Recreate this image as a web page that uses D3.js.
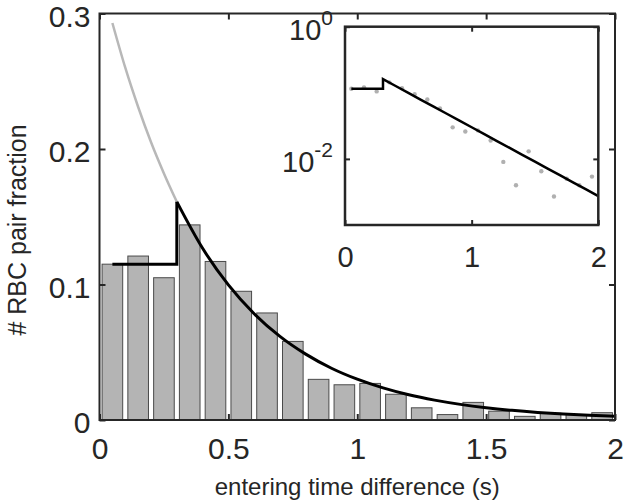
<!DOCTYPE html>
<html><head><meta charset="utf-8">
<script src="https://cdn.jsdelivr.net/npm/d3@7"></script>
<style>body{margin:0;background:#fff}svg{display:block}text{font-family:"Liberation Sans",Arial,sans-serif;fill:#262626}</style>
</head><body><svg id="c" width="625" height="502"></svg>
<script>
// histogram bins (centers) and fractions
const binCenters = [0.05,0.15,0.25,0.35,0.45,0.55,0.65,0.75,0.85,0.95,1.05,1.15,1.25,1.35,1.45,1.55,1.65,1.75,1.85,1.95];
const fractions  = [0.115,0.121,0.105,0.144,0.117,0.095,0.079,0.058,0.030,0.026,0.027,0.019,0.009,0.004,0.013,0.0065,0.0027,0.005,0.004,0.0054];
// extrapolated fit (gray) for short times
const grayX = [0.05,0.1,0.15,0.2,0.25,0.3];
const grayY = [0.293,0.260,0.231,0.205,0.182,0.161];
// plateau (black) for short times
const flatX = [0.05,0.3,0.3];
const flatY = [0.115,0.115,0.161];
// exponential fit (black)
const fitX = [0.3,0.4,0.5,0.6,0.7,0.8,0.9,1.0,1.1,1.2,1.3,1.4,1.5,1.6,1.7,1.8,1.9,2.0];
const fitY = [0.161,0.1267,0.0997,0.0784,0.0617,0.0486,0.0382,0.0301,0.0237,0.0186,0.01466,0.01153,0.00907,0.00714,0.00562,0.00442,0.00348,0.00274];
const xTicks = [0,0.5,1,1.5,2];
const xTickLabels = ["0","0.5","1","1.5","2"];
const yTicks = [0,0.1,0.2,0.3];
const yTickLabels = ["0","0.1","0.2","0.3"];
const insetXTicks = [0,1,2];
const insetYTicks = [1,0.01];
const insetYExp = ["0","-2"];
const xLabel = "entering time difference (s)";
const yLabel = "# RBC pair fraction";

const svg = d3.select("#c");
const AX = "#262626";
const x = d3.scaleLinear().domain([0,2]).range([99.5,615]);
const y = d3.scaleLinear().domain([0,0.3]).range([420,13.5]);
const bw = 0.08;

const g = svg.append("g");
g.selectAll("rect.bar").data(binCenters).join("rect").attr("class","bar")
  .attr("x", (d)=>x(d-bw/2)).attr("width", (d)=>x(d+bw/2)-x(d-bw/2))
  .attr("y", (d,i)=>y(fractions[i])).attr("height", (d,i)=>y(0)-y(fractions[i]))
  .attr("fill","#b4b4b4").attr("stroke","#4a4a4a").attr("stroke-width",1);

g.append("path").datum(grayX.map((v,i)=>[v,grayY[i]]))
  .attr("d", d3.line().x(d=>x(d[0])).y(d=>y(d[1])).curve(d3.curveMonotoneX)).attr("fill","none").attr("stroke","#b8b8b8").attr("stroke-width",2.5);
g.append("path").datum(flatX.map((v,i)=>[v,flatY[i]]))
  .attr("d", d3.line().x(d=>x(d[0])).y(d=>y(d[1]))).attr("fill","none").attr("stroke","#000").attr("stroke-width",3);
g.append("path").datum(fitX.map((v,i)=>[v,fitY[i]]))
  .attr("d", d3.line().x(d=>x(d[0])).y(d=>y(d[1])).curve(d3.curveMonotoneX)).attr("fill","none").attr("stroke","#000").attr("stroke-width",3);

// axes
function styleAxis(sel){ sel.select(".domain").remove(); sel.selectAll(".tick line").attr("stroke",AX).attr("stroke-width",2); sel.selectAll("text").attr("fill",AX).style("font-family",'"Liberation Sans",Arial,sans-serif'); }
const ax1 = svg.append("g").attr("transform",`translate(0,${y(0)})`)
  .call(d3.axisBottom(x).tickValues(xTicks).tickFormat((d,i)=>xTickLabels[i]).tickSizeInner(-6).tickSizeOuter(0).tickPadding(18));
ax1.selectAll("text").style("font-size","30px");
styleAxis(ax1);
const ax2 = svg.append("g").attr("transform",`translate(0,${y(0.3)})`)
  .call(d3.axisTop(x).tickValues(xTicks).tickFormat("").tickSizeInner(-6).tickSizeOuter(0));
styleAxis(ax2);
const ay1 = svg.append("g").attr("transform",`translate(${x(0)},0)`)
  .call(d3.axisLeft(y).tickValues(yTicks).tickFormat((d,i)=>yTickLabels[i]).tickSizeInner(-6).tickSizeOuter(0).tickPadding(9));
ay1.selectAll("text").style("font-size","30px").attr("dy","0.42em");
styleAxis(ay1);
const ay2 = svg.append("g").attr("transform",`translate(${x(2)},0)`)
  .call(d3.axisRight(y).tickValues(yTicks).tickFormat("").tickSizeInner(-6).tickSizeOuter(0));
styleAxis(ay2);
svg.append("rect").attr("x",x(0)).attr("y",y(0.3)).attr("width",x(2)-x(0)).attr("height",y(0)-y(0.3))
  .attr("fill","none").attr("stroke",AX).attr("stroke-width",2);

svg.append("text").attr("x",(x(0)+x(2))/2).attr("y",495).attr("text-anchor","middle").style("font-size","24px").text(xLabel);
svg.append("text").attr("transform","translate(26,230) rotate(-90)").attr("text-anchor","middle").style("font-size","25px").text(yLabel);

// inset
const xi = d3.scaleLinear().domain([0,2]).range([345,598.3]);
const yi = d3.scaleLog().domain([1e-3,1]).range([225,26.7]);
const gi = svg.append("g");
gi.append("rect").attr("x",xi(0)).attr("y",yi(1)).attr("width",xi(2)-xi(0)).attr("height",yi(1e-3)-yi(1)).attr("fill","#fff");
gi.selectAll("circle").data(binCenters).join("circle")
  .attr("cx",d=>xi(d)).attr("cy",(d,i)=>yi(fractions[i])).attr("r",2.2).attr("fill","#b0b0b0");
const li = d3.line().x(d=>xi(d[0])).y(d=>yi(d[1]));
gi.append("path").datum(flatX.map((v,i)=>[v,flatY[i]]).concat(fitX.map((v,i)=>[v,fitY[i]])))
  .attr("d",li).attr("fill","none").attr("stroke","#000").attr("stroke-width",2.5);
const bx1 = gi.append("g").attr("transform",`translate(0,${yi(1e-3)})`)
  .call(d3.axisBottom(xi).tickValues(insetXTicks).tickFormat(d3.format("d")).tickSizeInner(-5).tickSizeOuter(0).tickPadding(21));
bx1.selectAll("text").style("font-size","29px");
styleAxis(bx1);
const bx2 = gi.append("g").attr("transform",`translate(0,${yi(1)})`)
  .call(d3.axisTop(xi).tickValues(insetXTicks).tickFormat("").tickSizeInner(-5).tickSizeOuter(0));
styleAxis(bx2);
const by1 = gi.append("g").attr("transform",`translate(${xi(0)},0)`)
  .call(d3.axisLeft(yi).tickValues(insetYTicks).tickFormat("").tickSizeInner(-5).tickSizeOuter(0));
styleAxis(by1);
const by2 = gi.append("g").attr("transform",`translate(${xi(2)},0)`)
  .call(d3.axisRight(yi).tickValues(insetYTicks).tickFormat("").tickSizeInner(-5).tickSizeOuter(0));
styleAxis(by2);
insetYTicks.forEach((v,i)=>{
  const t = gi.append("text").attr("x",333).attr("y",yi(v)+13).attr("text-anchor","end").style("font-size","29px");
  t.append("tspan").text("10");
  t.append("tspan").attr("dy",-15).style("font-size","21px").text(insetYExp[i]);
});
gi.append("rect").attr("x",xi(0)).attr("y",yi(1)).attr("width",xi(2)-xi(0)).attr("height",yi(1e-3)-yi(1))
  .attr("fill","none").attr("stroke",AX).attr("stroke-width",2.5);
</script></body></html>
